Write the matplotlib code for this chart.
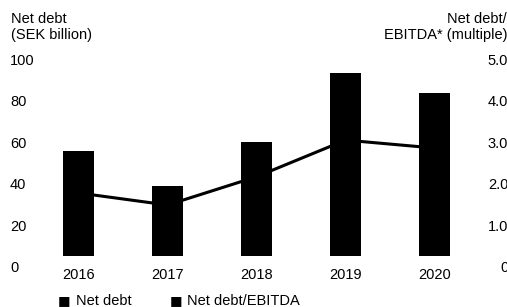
import numpy as np
import matplotlib
matplotlib.use("Agg")
import matplotlib.pyplot as plt

plt.rcParams['font.family'] = ['Liberation Sans', 'DejaVu Sans']

years = ['2016', '2017', '2018', '2019', '2020']
net_debt = [55.8, 38.9, 60.1, 93.3, 83.7]          # SEK billion
debt_ebitda = [1.78, 1.49, 2.17, 3.05, 2.86]       # multiple
left_ticks = [0, 20, 40, 60, 80, 100]
right_ticks = [0, 1, 2, 3, 4, 5]
right_labels = ['0', '1.0', '2.0', '3.0', '4.0', '5.0']

W, H = 507, 307
fig = plt.figure(figsize=(W / 100, H / 100), dpi=100)
ax = fig.add_axes([34 / W, (H - 267) / H, 445 / W, 208 / H])

x = np.arange(len(years))
base = 5.3  # bars sit a little above the zero row
ax.bar(x, np.array(net_debt) - base, bottom=base, width=0.35, color='black')
ax.set_xlim(-0.5, 4.5)
ax.set_ylim(0, 100)
ax.set_xticks(x)
ax.set_xticklabels(years)
ax.set_yticks(left_ticks)
ax.set_yticklabels([str(v) for v in left_ticks])
ax.tick_params(axis='both', length=0, labelsize=10.5)
ax.tick_params(axis='x', pad=1)
ax.tick_params(axis='y', pad=17.3)
for t in ax.get_yticklabels():
    t.set_ha('left')
for s in ax.spines.values():
    s.set_visible(False)

ax2 = ax.twinx()
ax2.plot(x, debt_ebitda, color='black', lw=2.2, solid_capstyle='butt')
ax2.set_ylim(0, 5)
ax2.set_yticks(right_ticks)
ax2.set_yticklabels(right_labels)
ax2.tick_params(axis='y', length=0, labelsize=10.5, pad=21)
for t in ax2.get_yticklabels():
    t.set_ha('right')
for s in ax2.spines.values():
    s.set_visible(False)

fig.text(11 / W, 1 - 12 / H, 'Net debt\n(SEK billion)', ha='left', va='top',
         fontsize=10.5, linespacing=1.2)
fig.text(507 / W, 1 - 12 / H, 'Net debt/\nEBITDA* (multiple)', ha='right', va='top',
         multialignment='right', fontsize=10.5, linespacing=1.2)

ly = (H - 301) / H
fig.text(58 / W, ly, '■', ha='left', va='center', fontsize=9.5, family='DejaVu Sans')
fig.text(76 / W, ly, 'Net debt', ha='left', va='center', fontsize=10.5)
fig.text(170 / W, ly, '■', ha='left', va='center', fontsize=9.5, family='DejaVu Sans')
fig.text(187 / W, ly, 'Net debt/EBITDA', ha='left', va='center', fontsize=10.5)

fig.savefig('out.png', dpi=100)
